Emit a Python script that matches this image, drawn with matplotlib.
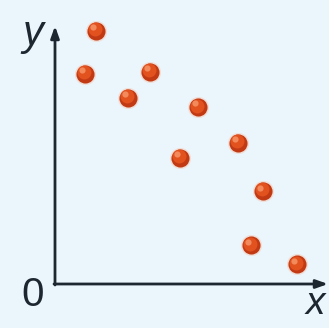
import matplotlib.pyplot as plt

# scatter values (arbitrary units, origin at the axes corner)
xs = [4.1, 3.0, 9.5, 7.3, 14.3, 12.5, 18.3, 20.8, 19.6, 24.2]
ys = [25.3, 21.0, 21.2, 18.6, 17.7, 12.6, 14.1, 9.3, 3.9, 2.0]

bg = "#eaf5fc"
ink = "#1d2730"

fig = plt.figure(figsize=(3.29, 3.28), dpi=100, facecolor=bg)
ax = fig.add_axes([0, 0, 1, 1])
ax.set_facecolor(bg)
ax.set_xlim(-5.5, 27.4)
ax.set_ylim(-4.4, 28.4)
ax.axis("off")

# axes with arrow heads
ax.annotate("", xy=(27.3, 0), xytext=(-0.1, 0),
            arrowprops=dict(arrowstyle="-|>,head_length=0.7,head_width=0.25",
                            color=ink, lw=2, shrinkA=0, shrinkB=0))
ax.annotate("", xy=(0, 25.8), xytext=(0, -0.1),
            arrowprops=dict(arrowstyle="-|>,head_length=0.7,head_width=0.25",
                            color=ink, lw=2, shrinkA=0, shrinkB=0))

# shaded balls: halo, body, highlight
ax.scatter(xs, ys, s=230, color="#f6c9b4", alpha=0.5, zorder=3, linewidths=0)
ax.scatter(xs, ys, s=170, color="#c23a14", zorder=4, linewidths=0)
ax.scatter([x - 0.15 for x in xs], [y + 0.15 for y in ys], s=100,
           color="#e2521f", zorder=5, linewidths=0)
ax.scatter([x - 0.35 for x in xs], [y + 0.35 for y in ys], s=20,
           color="#f28a5c", zorder=6, linewidths=0)

ax.text(-2.2, 25.0, "y", fontsize=30, style="italic", color=ink,
        family="Liberation Sans", ha="center", va="center")
ax.text(26.0, -2.0, "x", fontsize=28, style="italic", color=ink,
        family="Liberation Sans", ha="center", va="center")
ax.text(-2.2, -1.1, "0", fontsize=29, color=ink,
        family="Liberation Sans", ha="center", va="center")

fig.savefig("out.png", dpi=100, facecolor=bg)
